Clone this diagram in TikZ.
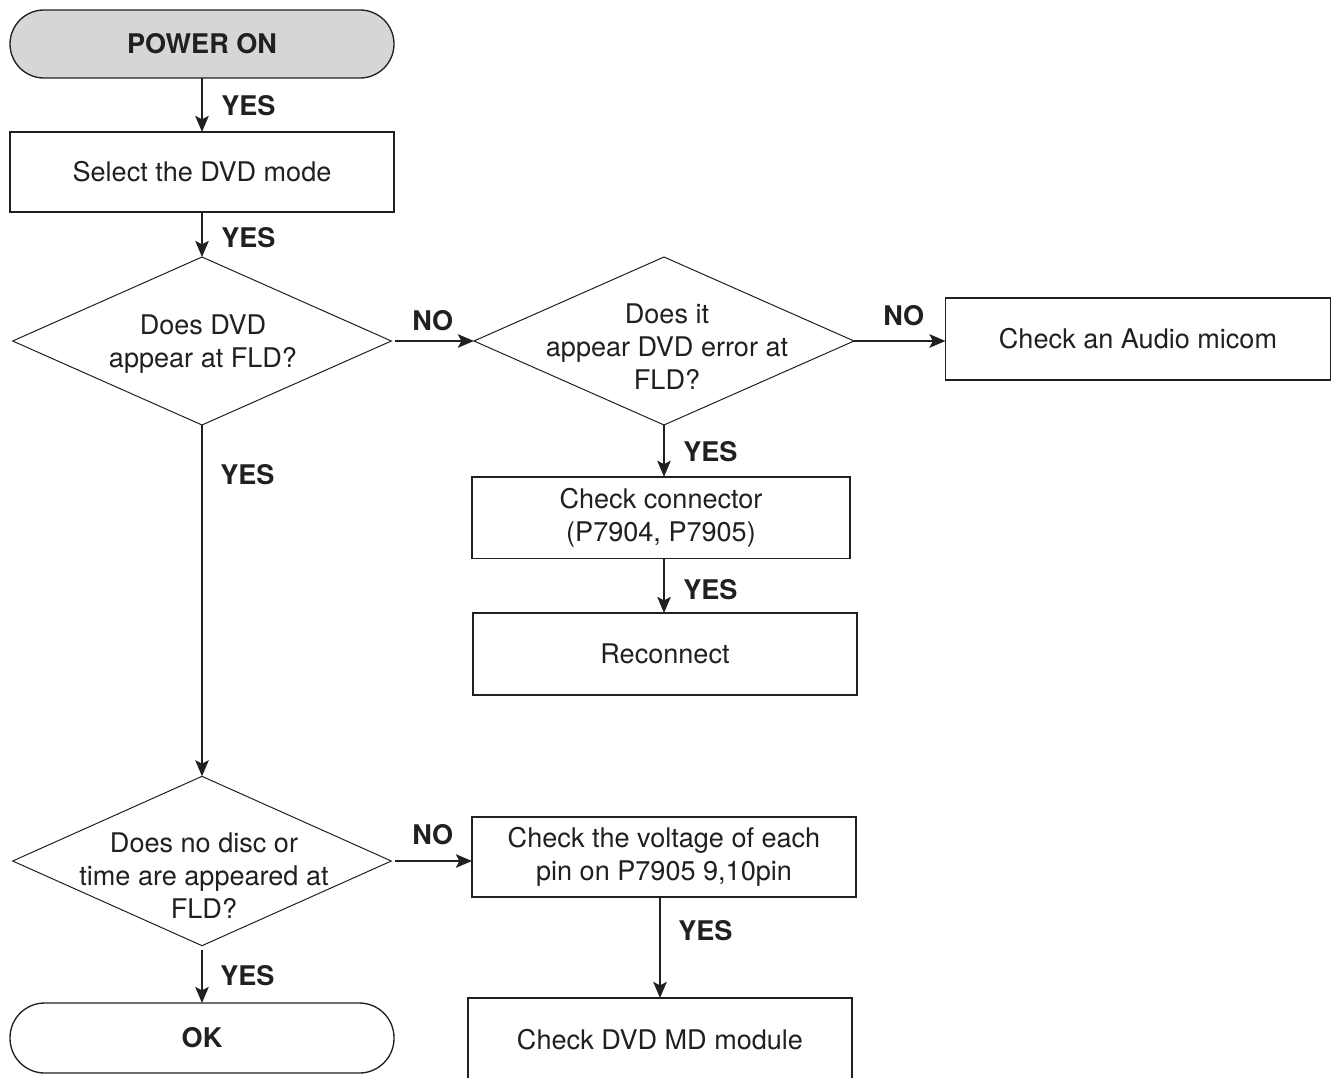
\documentclass[tikz,border=0pt]{standalone}
\usepackage{fontspec}
\setmainfont{TeX Gyre Heros}
\usetikzlibrary{shapes.geometric,arrows.meta,calc}
\definecolor{ink}{HTML}{231F20}
\definecolor{termfill}{HTML}{D5D6D8}

\begin{document}
\begin{tikzpicture}[x=0.75pt,y=-0.75pt,
  font=\fontsize{20.3}{24.75}\selectfont,
  every node/.style={text=ink},
  term/.style={draw=ink, line width=1pt, rectangle, rounded corners=25.5pt,
    minimum width=288pt, minimum height=51pt, inner sep=0pt, outer sep=0pt,
    font=\fontsize{20.3}{24.75}\selectfont\bfseries},
  proc/.style={draw=ink, line width=1pt, rectangle, minimum width=288pt,
    minimum height=60pt, inner sep=0pt, outer sep=0pt, align=center},
  decision/.style={draw=ink, line width=0.75pt, diamond, inner sep=0pt,
    outer sep=0pt, minimum width=284pt, minimum height=126pt},
  qtext/.style={align=center, inner sep=0pt},
  lab/.style={font=\fontsize{20.3}{24}\selectfont\bfseries, inner sep=0pt, anchor=west},
  flow/.style={draw=ink, line width=1.8pt, -{Stealth[length=12pt,width=10pt,inset=2.5pt]}},
]
\useasboundingbox (0,0) rectangle (1333,1077);
\clip (0,0) rectangle (1333,1077);

% main column
\node[term, fill=termfill] (pon) at (202,44) {POWER ON};
\node[proc] (sel) at (202,172) {Select the DVD mode};
\node[decision] (d1) at (202,341) {};
\node[qtext] (q1) at (203,344) {Does DVD\\appear at FLD?};
\node[decision, minimum height=127pt] (d3) at (202,861) {};
\node[qtext] (q3) at (204,876) {Does no disc or\\time are appeared at\\FLD?};
\node[term, minimum height=52.5pt, rounded corners=26pt] (ok) at (202,1038) {OK};

% right-hand branch
\node[decision, minimum width=285pt] (d2) at (664,341) {};
\node[qtext] (q2) at (667,347) {Does it\\appear DVD error at\\FLD?};
\node[proc, minimum width=288.75pt, minimum height=61.5pt] (aud) at (1138,339) {Check an Audio micom};
\node[proc, minimum width=283.5pt, minimum height=61pt] (con) at (661,517.5) {Check connector\\(P7904, P7905)};
\node[proc, minimum height=61.5pt] (rec) at (665,654) {Reconnect};
\node[proc] (vol) at (664,857) {Check the voltage of each\\pin on P7905 9,10pin};
\node[proc, minimum height=63pt] (mod) at (660,1040) {Check DVD MD module};

% connectors
\draw[flow] (pon) -- (sel);
\draw[flow] (sel) -- (d1);
\draw[flow] (d1) -- (d3);
\draw[flow, shorten <=3pt] (d3) -- (ok);
\draw[flow, shorten <=3pt] (d1) -- (d2);
\draw[flow] (d2.east) -- (d2.east -| aud.west);
\draw[flow] (d2.south) -- (d2.south |- con.north);
\draw[flow] (con.south -| d2.south) -- (rec.north -| d2.south);
\draw[flow, shorten <=3pt] (d3.east) -- (d3.east -| vol.west);
\draw[flow] (mod.north |- vol.south) -- (mod.north);

% branch labels
\node[lab] (y1) at (221,106) {YES};
\node[lab] (y2) at (221,238) {YES};
\node[lab] (n1) at (412,321) {NO};
\node[lab] (n2) at (883,316) {NO};
\node[lab] (y3) at (220,475) {YES};
\node[lab] (y4) at (683,452) {YES};
\node[lab] (y5) at (683,590) {YES};
\node[lab] (n3) at (412,835) {NO};
\node[lab] (y6) at (678,931) {YES};
\node[lab] (y7) at (220,976) {YES};
\end{tikzpicture}
\end{document}
